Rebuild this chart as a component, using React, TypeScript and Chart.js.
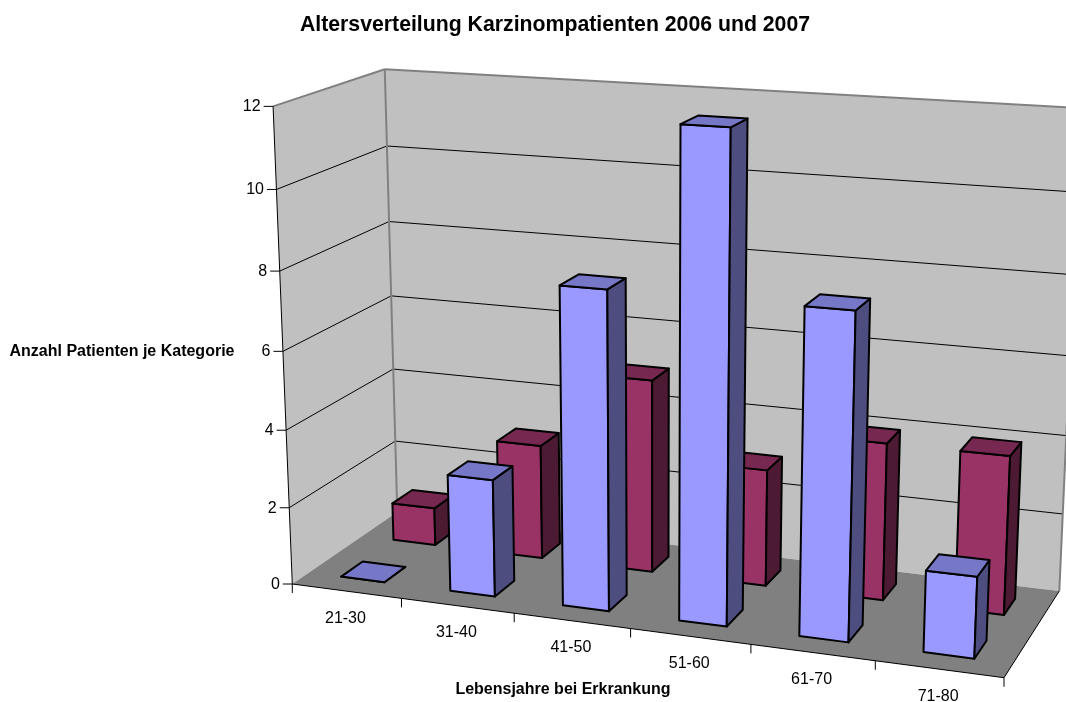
import React, { useEffect, useRef } from "react";
import { Chart, registerables } from "chart.js";

Chart.register(...registerables);

const chartTitle = "Altersverteilung Karzinompatienten 2006 und 2007";
const valueAxisTitle = "Anzahl Patienten je Kategorie";
const categoryAxisTitle = "Lebensjahre bei Erkrankung";
const categories = ["21-30", "31-40", "41-50", "51-60", "61-70", "71-80"];
const patients2006 = [0, 3, 8, 12, 8, 2];
const patients2007 = [1, 3, 5, 3, 4, 4];

const FONT = '"Liberation Sans", Arial, sans-serif';
const WIDTH = 1066;
const HEIGHT = 702;

// Floor of the plot box on screen, counter-clockwise from the front-left corner.
const floorCorners = [
  [292.3, 584],
  [1004, 677.7],
  [1059.3, 591],
  [397.3, 512],
];
// Known screen positions above the floor: u, v, height fraction, x, y.
const raisedCorners = [
  [0, 0, 1, 273.3, 105.7],
  [0, 1, 1, 385, 69],
  [1, 1, 1, 1081, 110],
  [0, 0, 10 / 12, 276, 188.3],
  [0, 1, 10 / 12, 386.7, 146],
];

type Point = [number, number];

function solveLinear(m: number[][], r: number[]): number[] {
  const n = r.length;
  const a = m.map((row, i) => [...row, r[i]]);
  for (let i = 0; i < n; i++) {
    let pivot = i;
    for (let k = i + 1; k < n; k++) if (Math.abs(a[k][i]) > Math.abs(a[pivot][i])) pivot = k;
    [a[i], a[pivot]] = [a[pivot], a[i]];
    for (let k = i + 1; k < n; k++) {
      const f = a[k][i] / a[i][i];
      for (let j = i; j <= n; j++) a[k][j] -= f * a[i][j];
    }
  }
  const out = new Array(n).fill(0);
  for (let i = n - 1; i >= 0; i--) {
    let s = a[i][n];
    for (let j = i + 1; j < n; j++) s -= a[i][j] * out[j];
    out[i] = s / a[i][i];
  }
  return out;
}

// Builds the perspective camera that maps (u, v, w) in the unit box to the screen.
function buildCamera() {
  const [[x0, y0], [x1, y1], [x2, y2], [x3, y3]] = floorCorners;
  const sx = x0 - x1 + x2 - x3;
  const sy = y0 - y1 + y2 - y3;
  const dx1 = x1 - x2;
  const dx2 = x3 - x2;
  const dy1 = y1 - y2;
  const dy2 = y3 - y2;
  const den = dx1 * dy2 - dx2 * dy1;
  const g = (sx * dy2 - dx2 * sy) / den;
  const h = (dx1 * sy - sx * dy1) / den;
  const a = x1 - x0 + g * x1;
  const b = x3 - x0 + h * x3;
  const d = y1 - y0 + g * y1;
  const e = y3 - y0 + h * y3;

  const rows: number[][] = [];
  const rhs: number[] = [];
  for (const [u, v, w, x, y] of raisedCorners) {
    const X = a * u + b * v + x0;
    const Y = d * u + e * v + y0;
    const Z = g * u + h * v + 1;
    rows.push([w, 0, -x * w]);
    rhs.push(x * Z - X);
    rows.push([0, w, -y * w]);
    rhs.push(y * Z - Y);
  }
  const ata = [0, 1, 2].map((i) =>
    [0, 1, 2].map((j) => rows.reduce((s, r) => s + r[i] * r[j], 0))
  );
  const atb = [0, 1, 2].map((i) => rows.reduce((s, r, k) => s + r[i] * rhs[k], 0));
  const [cx, cy, cz] = solveLinear(ata, atb);

  return (u: number, v: number, w: number): Point => {
    const z = g * u + h * v + 1 + cz * w;
    return [(a * u + b * v + x0 + cx * w) / z, (d * u + e * v + y0 + cy * w) / z];
  };
}

const project = buildCamera();

function polygon(ctx: CanvasRenderingContext2D, pts: Point[], fill: string | null, stroke?: string, lw = 1) {
  ctx.beginPath();
  pts.forEach((p, i) => (i ? ctx.lineTo(p[0], p[1]) : ctx.moveTo(p[0], p[1])));
  ctx.closePath();
  if (fill) {
    ctx.fillStyle = fill;
    ctx.fill();
  }
  if (stroke) {
    ctx.strokeStyle = stroke;
    ctx.lineWidth = lw;
    ctx.stroke();
  }
}

function segment(ctx: CanvasRenderingContext2D, a: Point, b: Point, color: string, lw = 1) {
  ctx.beginPath();
  ctx.moveTo(a[0], a[1]);
  ctx.lineTo(b[0], b[1]);
  ctx.strokeStyle = color;
  ctx.lineWidth = lw;
  ctx.stroke();
}

const box3d = {
  id: "box3d",
  // The flat bars are replaced by extruded ones placed with the same scales.
  beforeDatasetsDraw(chart: any) {
    const ctx: CanvasRenderingContext2D = chart.ctx;
    const xs = chart.scales.x;
    const ys = chart.scales.y;
    const area = chart.chartArea;
    const toU = (px: number) => (px - area.left) / (area.right - area.left);
    const toW = (val: number) => (area.bottom - ys.getPixelForValue(val)) / (area.bottom - area.top);
    const cell = 1 / categories.length;

    ctx.save();
    ctx.lineJoin = "round";

    // Walls and floor
    polygon(ctx, [project(0, 0, 0), project(0, 1, 0), project(0, 1, 1), project(0, 0, 1)], "#C0C0C0");
    polygon(ctx, [project(0, 1, 0), project(1, 1, 0), project(1, 1, 1), project(0, 1, 1)], "#C0C0C0");
    polygon(ctx, [project(0, 0, 0), project(1, 0, 0), project(1, 1, 0), project(0, 1, 0)], "#808080");

    // Gridlines across both walls
    for (const tick of ys.ticks) {
      const w = toW(tick.value);
      if (w > 0 && w < 1) {
        segment(ctx, project(0, 0, w), project(0, 1, w), "#000");
        segment(ctx, project(0, 1, w), project(1, 1, w), "#000");
      }
    }

    // Wall borders
    const edge = "#808080";
    segment(ctx, project(0, 0, 1), project(0, 1, 1), edge, 2);
    segment(ctx, project(0, 1, 1), project(1, 1, 1), edge, 2);
    segment(ctx, project(0, 1, 0), project(0, 1, 1), edge, 2);
    segment(ctx, project(1, 1, 0), project(1, 1, 1), edge, 2);

    // Axis lines and tick marks
    segment(ctx, project(0, 0, 0), project(0, 0, 1), "#000");
    segment(ctx, project(0, 0, 0), project(1, 0, 0), "#000");
    segment(ctx, project(1, 0, 0), project(1, 1, 0), "#000");

    ctx.fillStyle = "#000";
    ctx.font = `16px ${FONT}`;
    ctx.textAlign = "right";
    ctx.textBaseline = "middle";
    for (const tick of ys.ticks) {
      const p = project(0, 0, toW(tick.value));
      segment(ctx, p, [p[0] - 9.5, p[1]], "#000");
      ctx.fillStyle = "#000";
      ctx.fillText(String(tick.value), p[0] - 12.5, p[1] + 0.5);
    }

    ctx.textAlign = "center";
    categories.forEach((label, i) => {
      const uc = toU(xs.getPixelForValue(i));
      const right = project(uc + cell / 2, 0, 0);
      segment(ctx, right, [right[0], right[1] + 9], "#000");
      const c = project(uc, 0, 0);
      ctx.fillStyle = "#000";
      ctx.fillText(label, c[0] - 1, c[1] + 27);
    });
    const origin = project(0, 0, 0);
    segment(ctx, origin, [origin[0], origin[1] + 9], "#000");

    // Bars: rear row first, then front row, each from left to right
    const shade = (hex: string, f: number) => {
      const n = parseInt(hex.slice(1), 16);
      const c = [(n >> 16) & 255, (n >> 8) & 255, n & 255].map((q) => Math.round(q * f));
      return `rgb(${c[0]},${c[1]},${c[2]})`;
    };
    const rowSpan: [number, number][] = [
      [0.15, 0.35],
      [0.65, 0.85],
    ];
    [1, 0].forEach((row) => {
      const ds = chart.data.datasets[row];
      const [v0, v1] = rowSpan[row];
      ds.data.forEach((val: number, i: number) => {
        const uc = toU(xs.getPixelForValue(i));
        const u0 = uc - cell * 0.2;
        const u1 = uc + cell * 0.2;
        const w = toW(val);
        const color: string = ds.backgroundColor;
        polygon(ctx, [project(u0, v0, 0), project(u1, v0, 0), project(u1, v0, w), project(u0, v0, w)], color, "#000", 2);
        polygon(ctx, [project(u1, v0, 0), project(u1, v1, 0), project(u1, v1, w), project(u1, v0, w)], shade(color, 0.5), "#000", 2);
        polygon(ctx, [project(u0, v0, w), project(u1, v0, w), project(u1, v1, w), project(u0, v1, w)], shade(color, 0.78), "#000", 2);
      });
    });

    // Titles
    ctx.fillStyle = "#000";
    ctx.font = `bold 21.25px ${FONT}`;
    ctx.textAlign = "center";
    ctx.fillText(chartTitle, 555, 25.5);
    ctx.font = `bold 16px ${FONT}`;
    ctx.fillText(valueAxisTitle, 122, 352);
    ctx.fillText(categoryAxisTitle, 563, 689.5);
    ctx.restore();
    return false;
  },
};

export default function App() {
  const ref = useRef<HTMLCanvasElement | null>(null);
  useEffect(() => {
    if (!ref.current) return;
    const chart = new Chart(ref.current, {
      type: "bar",
      data: {
        labels: categories,
        datasets: [
          { label: "2006", data: patients2006, backgroundColor: "#9999FF" },
          { label: "2007", data: patients2007, backgroundColor: "#993366" },
        ],
      },
      options: {
        animation: false,
        responsive: false,
        plugins: { legend: { display: false }, tooltip: { enabled: false } },
        scales: {
          x: { display: false },
          y: { display: false, min: 0, max: 12, ticks: { stepSize: 2 } },
        },
      },
      plugins: [box3d],
    } as any);
    return () => chart.destroy();
  }, []);
  return (
    <canvas
      ref={ref}
      width={WIDTH}
      height={HEIGHT}
      style={{ position: "fixed", left: 0, top: 0, display: "block", background: "#fff" }}
    />
  );
}
